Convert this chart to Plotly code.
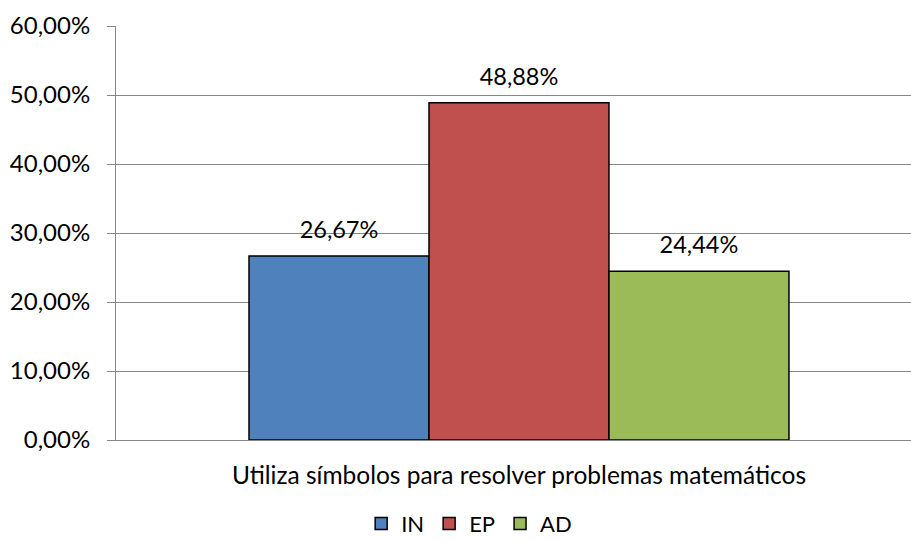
import plotly.graph_objects as go

category = ["Utiliza símbolos para resolver problemas matemáticos"]
series_names = ["IN", "EP", "AD"]
series_values = [[0.2667], [0.4888], [0.2444]]
series_colors = ["#4F81BD", "#C0504D", "#9BBB59"]
y_ticks = [0, 0.1, 0.2, 0.3, 0.4, 0.5, 0.6]

font_family = "Lato, 'Open Sans', sans-serif"
gap = 0.3208

fig = go.Figure()
for name, vals, color in zip(series_names, series_values, series_colors):
    fig.add_trace(
        go.Bar(
            x=category,
            y=vals,
            name=name,
            offsetgroup=name,
            marker=dict(color=color, line=dict(color="#000000", width=1.5)),
            hoverinfo="skip",
        )
    )

# data labels, lifted a bit above the bars like the Excel original
for name, vals in zip(series_names, series_values):
    fig.add_trace(
        go.Scatter(
            x=category,
            y=vals,
            offsetgroup=name,
            mode="markers+text",
            marker=dict(size=18, opacity=0),
            texttemplate="%{y:.2%}",
            textposition="top center",
            textfont=dict(size=23.5, color="#000000"),
            showlegend=False,
            hoverinfo="skip",
            cliponaxis=False,
        )
    )

fig.update_layout(
    width=911,
    height=541,
    template="plotly_white",
    paper_bgcolor="white",
    plot_bgcolor="white",
    separators=",.",
    barmode="group",
    bargap=gap,
    bargroupgap=0,
    scattermode="group",
    scattergap=gap,
    font=dict(family=font_family, size=23, color="#000000"),
    margin=dict(l=116, r=0, t=26, b=101),
    xaxis=dict(
        type="category",
        range=[-0.5069, 0.4931],
        automargin=False,
        showgrid=False,
        showline=True,
        linecolor="#868686",
        linewidth=1,
        ticks="",
        ticklabelstandoff=14,
        tickfont=dict(size=24.5),
    ),
    yaxis=dict(
        range=[0, 0.6],
        tickvals=y_ticks,
        tickformat=".2%",
        automargin=False,
        showgrid=True,
        gridcolor="#868686",
        gridwidth=1,
        showline=True,
        linecolor="#868686",
        linewidth=1,
        ticks="outside",
        ticklen=8,
        tickcolor="#868686",
        ticklabelstandoff=12,
        zeroline=False,
        tickfont=dict(size=24),
    ),
    legend=dict(
        orientation="h",
        xref="container",
        yref="container",
        x=0.515,
        y=0.032,
        xanchor="center",
        yanchor="middle",
        font=dict(size=22),
        itemwidth=30,
        tracegroupgap=0,
    ),
    showlegend=True,
)

fig.write_html(
    "out.html",
    config={"displayModeBar": False},
    post_script="document.body.style.margin='0px';",
)
